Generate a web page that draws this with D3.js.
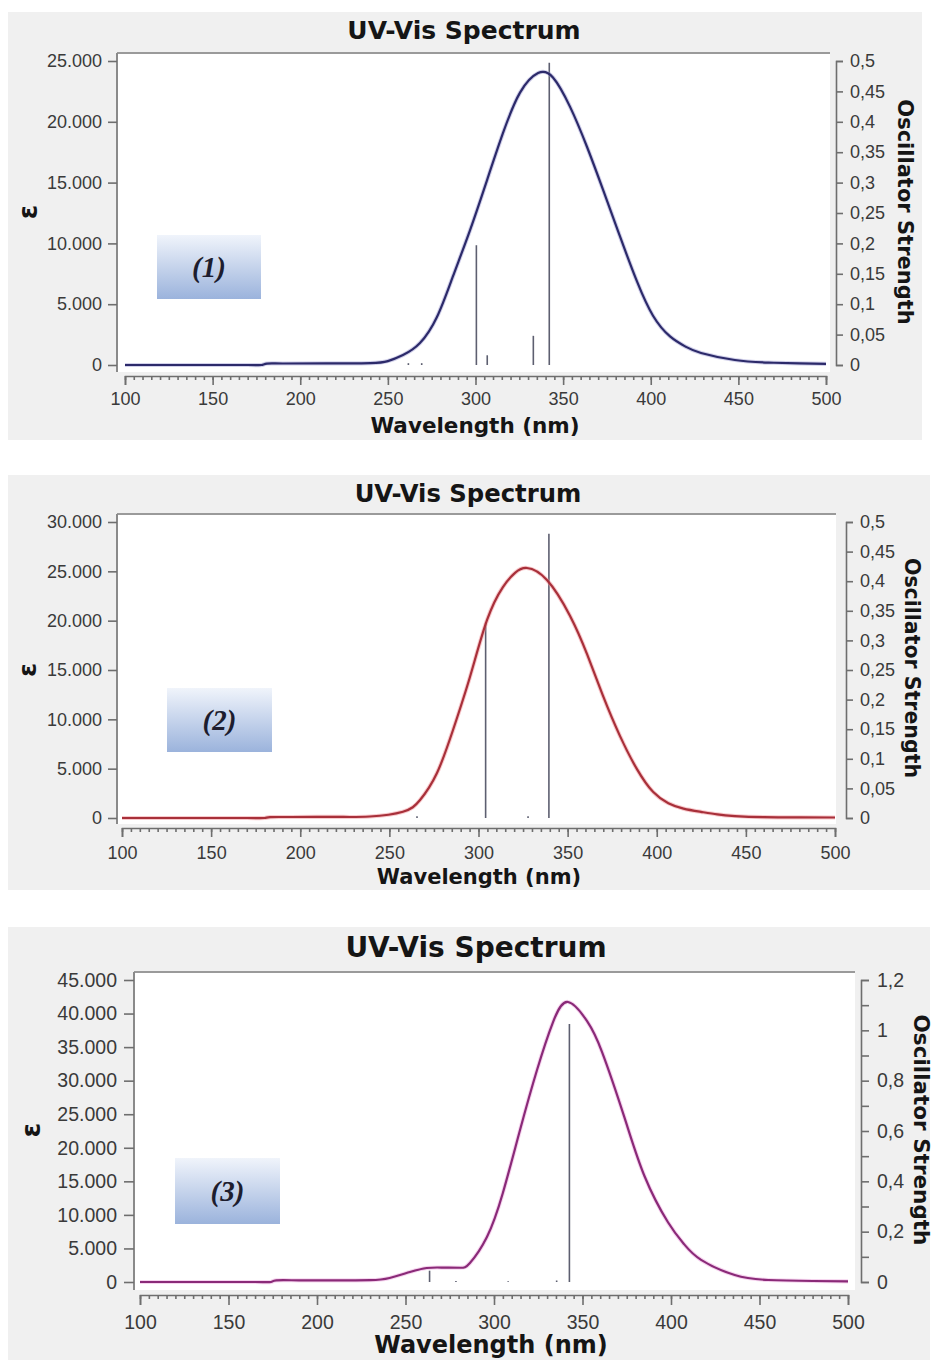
<!DOCTYPE html>
<html>
<head>
<meta charset="utf-8">
<script src="https://cdn.jsdelivr.net/npm/d3@7"></script>
<style>
body { margin: 0; background: #fff; }
svg { display: block; font-family: "DejaVu Sans", Verdana, sans-serif; }
</style>
</head>
<body>
<svg id="chart" width="936" height="1360"></svg>
<script>
// spectrum (1) - wavelength (nm) / epsilon
var wave1 = [100, 140, 170, 178, 181, 190, 215, 240, 250, 258.6, 268.3, 278, 287, 296.9, 306.6, 315.7, 325.4, 335.7, 344.2, 353.9, 363.6, 372.8, 382.5, 392.2, 401.3, 411, 420, 428.7, 448, 467, 485, 500];
var eps1  = [0, 0, 0, 0, 120, 125, 130, 150, 320, 820, 1810, 3950, 7240, 11100, 15210, 19080, 22400, 24010, 23650, 21250, 17950, 14400, 10550, 6850, 4050, 2350, 1500, 990, 410, 200, 130, 100];
var stickWave1 = [261.7, 269.3, 300.5, 306.7, 333, 342.1];
var osc1       = [0.003, 0.003, 0.197, 0.016, 0.048, 0.497];
var epsTicks1 = [0, 5000, 10000, 15000, 20000, 25000];
var oscTicks1 = [0, 0.05, 0.1, 0.15, 0.2, 0.25, 0.3, 0.35, 0.4, 0.45, 0.5];
var oscLabels1 = ["0", "0,05", "0,1", "0,15", "0,2", "0,25", "0,3", "0,35", "0,4", "0,45", "0,5"];

// spectrum (2)
var wave2 = [100, 140, 170, 180, 183, 195, 220, 239, 257.6, 267.2, 276.7, 285.7, 295.2, 304.8, 313.7, 320.5, 327.2, 338.4, 351.3, 360.9, 369.8, 379.4, 388.9, 397.9, 406.5, 415, 424.8, 434, 443.9, 460, 480, 500];
var eps2  = [0, 0, 0, 0, 90, 100, 110, 150, 640, 1820, 4560, 8920, 14290, 20070, 23410, 24850, 25340, 24120, 20500, 16600, 12400, 8300, 4950, 2650, 1500, 950, 620, 360, 200, 90, 60, 50];
var stickWave2 = [265.5, 304, 327.8, 339.5];
var osc2       = [0.003, 0.33, 0.003, 0.48];
var epsTicks2 = [0, 5000, 10000, 15000, 20000, 25000, 30000];
var oscTicks2 = [0, 0.05, 0.1, 0.15, 0.2, 0.25, 0.3, 0.35, 0.4, 0.45, 0.5];
var oscLabels2 = ["0", "0,05", "0,1", "0,15", "0,2", "0,25", "0,3", "0,35", "0,4", "0,45", "0,5"];

// spectrum (3)
var wave3 = [100, 140, 165, 174, 177, 190, 210, 230, 241, 252.5, 262, 271, 280.8, 286.4, 296, 305, 314.7, 324.3, 333.3, 341.8, 352.5, 361, 373.6, 385, 398.3, 407.5, 417, 436, 455, 480, 500];
var eps3  = [0, 0, 0, 0, 250, 250, 250, 270, 600, 1490, 2090, 2150, 2120, 2830, 6700, 13260, 22650, 31590, 38700, 41720, 38900, 34300, 24600, 15800, 8900, 5600, 3300, 1040, 300, 150, 100];
var stickWave3 = [263.6, 278.5, 308, 335.4, 342.6];
var osc3       = [0.045, 0.004, 0.003, 0.006, 1.025];
var epsTicks3 = [0, 5000, 10000, 15000, 20000, 25000, 30000, 35000, 40000, 45000];
var oscTicks3 = [0, 0.1, 0.2, 0.3, 0.4, 0.5, 0.6, 0.7, 0.8, 0.9, 1, 1.1, 1.2];
var oscLabels3 = ["0", "", "0,2", "", "0,4", "", "0,6", "", "0,8", "", "1", "", "1,2"];

var waveTicks = [100, 150, 200, 250, 300, 350, 400, 450, 500];

var svg = d3.select("#chart");
var loc = d3.formatLocale({decimal: ",", thousands: ".", grouping: [3], currency: ["", ""]});
var epsFmt = loc.format(",d");

var defs = svg.append("defs");
var grad = defs.append("linearGradient").attr("id", "boxfill")
    .attr("x1", 0).attr("y1", 0).attr("x2", 0).attr("y2", 1);
grad.append("stop").attr("offset", "0%").attr("stop-color", "#f0f4fb");
grad.append("stop").attr("offset", "100%").attr("stop-color", "#9bb3dc");

//-----------------------------------------------------------------------------
function drawPanel(p, d) {
    var g = svg.append("g");

    g.append("rect").attr("x", p.bg[0]).attr("y", p.bg[1])
        .attr("width", p.bg[2]).attr("height", p.bg[3]).attr("fill", "#f0f0f0");
    g.append("rect").attr("x", p.left).attr("y", p.top)
        .attr("width", p.right - p.left).attr("height", p.bottom - p.top).attr("fill", "#fff");

    var x = d3.scaleLinear().domain([100, 500]).range(p.xRange);
    var y = d3.scaleLinear().domain([0, d3.max(d.epsTicks)]).range(p.yRange);
    var y2 = d3.scaleLinear().domain([0, d3.max(d.oscTicks)]).range(p.yRange);

    // frame: top line + left axis line
    g.append("line").attr("x1", p.left).attr("x2", p.right).attr("y1", p.top).attr("y2", p.top)
        .attr("stroke", "#9a9a9a").attr("stroke-width", 2);
    g.append("line").attr("x1", p.left).attr("x2", p.left).attr("y1", p.top).attr("y2", p.bottom)
        .attr("stroke", "#8a8a8a").attr("stroke-width", 2);

    var yAxis = g.append("g").attr("transform", `translate(${p.left},0)`)
        .call(d3.axisLeft(y).tickValues(d.epsTicks).tickFormat(epsFmt)
            .tickSize(p.tick).tickSizeOuter(0).tickPadding(p.pad));
    yAxis.select(".domain").remove();

    var rAxis = g.append("g").attr("transform", `translate(${p.rAxisX},0)`)
        .call(d3.axisRight(y2).tickValues(d.oscTicks).tickFormat((v, i) => d.oscLabels[i])
            .tickSize(p.tick - 2).tickSizeOuter(p.tick - 2).tickPadding(p.pad + 1));

    var xAxis = g.append("g").attr("transform", `translate(0,${p.xAxisY})`)
        .call(d3.axisBottom(x).tickValues(waveTicks).tickSize(p.tick).tickSizeOuter(p.tick));
    xAxis.selectAll(".tick text").attr("y", p.xLabOff).attr("dy", "0.35em");
    g.append("g").attr("transform", `translate(0,${p.xAxisY})`)
        .call(d3.axisBottom(x).tickValues(d3.range(100, 501, 5)).tickSize(4).tickFormat(""))
        .select(".domain").remove();

    [yAxis, rAxis, xAxis].forEach(function(a) {
        a.selectAll(".tick text").attr("font-size", p.font).attr("fill", "#3a3a3a").attr("font-family", null);
    });
    g.selectAll(".domain, .tick line").attr("stroke", "#6e6e6e").attr("stroke-width", 1.6);

    // oscillator sticks
    g.selectAll(".stick").data(d.stickWave).enter().append("line")
        .attr("class", "stick")
        .attr("x1", w => x(w)).attr("x2", w => x(w))
        .attr("y1", y2(0)).attr("y2", (w, i) => y2(d.osc[i]))
        .attr("stroke", "#5d5f70").attr("stroke-width", 1.6);

    // spectrum curve
    var pts = d.wave.map((w, i) => [w, d.eps[i]]);
    var line = d3.line().x(v => x(v[0])).y(v => y(v[1])).curve(d3.curveNatural);
    g.append("path").datum(pts).attr("d", line).attr("fill", "none")
        .attr("stroke", p.halo).attr("stroke-width", 4.2).attr("stroke-opacity", 0.45);
    g.append("path").datum(pts).attr("d", line).attr("fill", "none")
        .attr("stroke", p.color).attr("stroke-width", 2.2);

    // titles
    g.append("text").attr("x", p.titleX).attr("y", p.titleY).attr("text-anchor", "middle")
        .attr("dominant-baseline", "central").attr("font-weight", "bold")
        .attr("font-size", p.titleSize).attr("fill", "#151515").text("UV-Vis Spectrum");
    g.append("text").attr("x", p.xLabelX).attr("y", p.xLabelY).attr("text-anchor", "middle")
        .attr("dominant-baseline", "central").attr("font-weight", "bold")
        .attr("font-size", p.xLabelSize).attr("fill", "#151515").text("Wavelength (nm)");
    g.append("text").attr("transform", `translate(${p.oscX},${p.oscY}) rotate(90)`)
        .attr("text-anchor", "middle").attr("dominant-baseline", "central").attr("font-weight", "bold")
        .attr("font-size", p.oscSize).attr("fill", "#151515").text("Oscillator Strength");
    g.append("text").attr("transform", `translate(${p.epsX},${p.epsY}) rotate(-90)`)
        .attr("text-anchor", "middle").attr("dominant-baseline", "central").attr("font-weight", "bold")
        .attr("font-size", p.oscSize + 5).attr("fill", "#151515").text("ε");

    // compound label box
    g.append("rect").attr("x", p.box[0]).attr("y", p.box[1])
        .attr("width", p.box[2]).attr("height", p.box[3]).attr("fill", "url(#boxfill)");
    g.append("text").attr("x", p.box[0] + p.box[2] / 2).attr("y", p.box[1] + p.box[3] / 2)
        .attr("text-anchor", "middle").attr("dominant-baseline", "central")
        .attr("font-family", "'Liberation Serif', 'Times New Roman', serif")
        .attr("font-weight", "bold").attr("font-style", "italic")
        .attr("font-size", 29).attr("fill", "#1d1d2e").text(d.name);
}
//-----------------------------------------------------------------------------

drawPanel({
    bg: [8, 12, 914, 428], left: 117, right: 830, top: 53, bottom: 372,
    xRange: [125, 826], yRange: [365, 61], xAxisY: 376, rAxisX: 836,
    tick: 9, pad: 6, font: 18, xLabOff: 23,
    titleX: 464, titleY: 30, titleSize: 25,
    xLabelX: 475, xLabelY: 425, xLabelSize: 21.5,
    oscX: 905, oscY: 212, oscSize: 21, epsX: 28, epsY: 212,
    box: [157, 235, 104, 64], color: "#2c2a6a", halo: "#9c9ad0"
}, {wave: wave1, eps: eps1, stickWave: stickWave1, osc: osc1,
    epsTicks: epsTicks1, oscTicks: oscTicks1, oscLabels: oscLabels1, name: "(1)"});

drawPanel({
    bg: [8, 475, 922, 415], left: 117, right: 836, top: 514, bottom: 824,
    xRange: [122, 835], yRange: [818, 522], xAxisY: 828, rAxisX: 846,
    tick: 9, pad: 6, font: 18, xLabOff: 25,
    titleX: 468, titleY: 493, titleSize: 24.3,
    xLabelX: 479, xLabelY: 877, xLabelSize: 21,
    oscX: 912, oscY: 668, oscSize: 20.5, epsX: 27, epsY: 670,
    box: [167, 688, 105, 64], color: "#a8303a", halo: "#f08a90"
}, {wave: wave2, eps: eps2, stickWave: stickWave2, osc: osc2,
    epsTicks: epsTicks2, oscTicks: oscTicks2, oscLabels: oscLabels2, name: "(2)"});

drawPanel({
    bg: [8, 927, 922, 440], left: 134, right: 855, top: 972, bottom: 1290,
    xRange: [140, 848], yRange: [1282, 980], xAxisY: 1295, rAxisX: 861,
    tick: 10, pad: 7, font: 19.5, xLabOff: 27,
    titleX: 476, titleY: 947, titleSize: 28,
    xLabelX: 491, xLabelY: 1345, xLabelSize: 24,
    oscX: 921, oscY: 1130, oscSize: 21.5, epsX: 30, epsY: 1130,
    box: [175, 1158, 105, 66], color: "#8a2a78", halo: "#eaa0dc"
}, {wave: wave3, eps: eps3, stickWave: stickWave3, osc: osc3,
    epsTicks: epsTicks3, oscTicks: oscTicks3, oscLabels: oscLabels3, name: "(3)"});
</script>
</body>
</html>
